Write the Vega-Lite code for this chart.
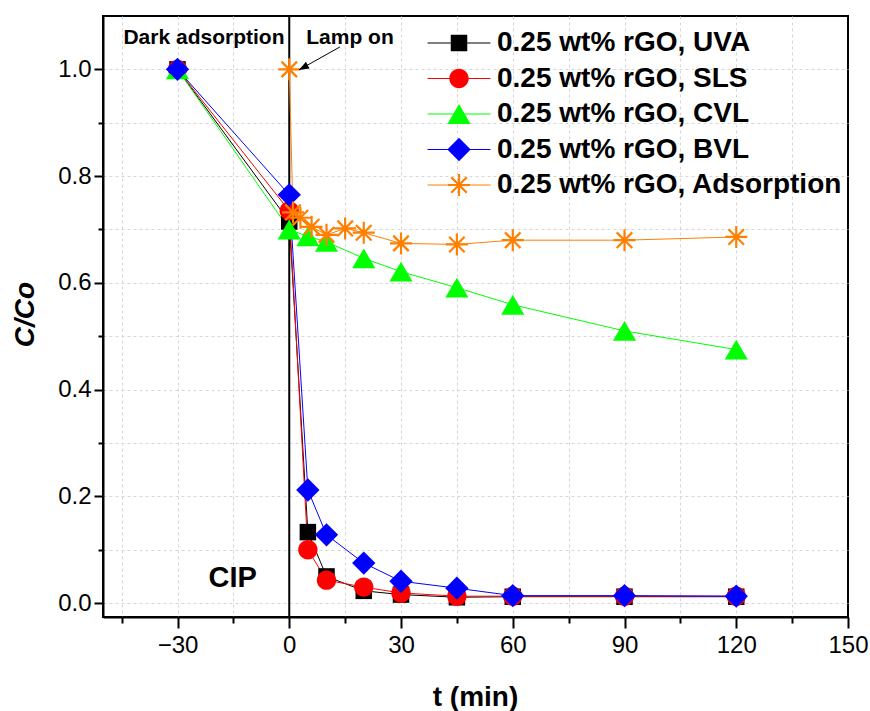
{
  "$schema": "https://vega.github.io/schema/vega-lite/v6.json",
  "width": 745,
  "height": 601,
  "autosize": {"type": "none"},
  "padding": {"left": 103, "top": 16, "right": 22, "bottom": 94},
  "background": "white",
  "config": {
    "font": "Liberation Sans",
    "view": {"stroke": "black", "strokeWidth": 2}
  },
  "resolve": {"axis": {"x": "independent", "y": "independent"}},
  "datasets": {
    "series": [
      {"t": -30, "v": 1.0, "s": "0.25 wt% rGO, UVA"},
      {"t": 0, "v": 0.715, "s": "0.25 wt% rGO, UVA"},
      {"t": 5, "v": 0.133, "s": "0.25 wt% rGO, UVA"},
      {"t": 10, "v": 0.05, "s": "0.25 wt% rGO, UVA"},
      {"t": 20, "v": 0.023, "s": "0.25 wt% rGO, UVA"},
      {"t": 30, "v": 0.016, "s": "0.25 wt% rGO, UVA"},
      {"t": 45, "v": 0.011, "s": "0.25 wt% rGO, UVA"},
      {"t": 60, "v": 0.012, "s": "0.25 wt% rGO, UVA"},
      {"t": 90, "v": 0.012, "s": "0.25 wt% rGO, UVA"},
      {"t": 120, "v": 0.012, "s": "0.25 wt% rGO, UVA"},
      {"t": -30, "v": 1.0, "s": "0.25 wt% rGO, SLS"},
      {"t": 0, "v": 0.735, "s": "0.25 wt% rGO, SLS"},
      {"t": 5, "v": 0.1, "s": "0.25 wt% rGO, SLS"},
      {"t": 10, "v": 0.043, "s": "0.25 wt% rGO, SLS"},
      {"t": 20, "v": 0.03, "s": "0.25 wt% rGO, SLS"},
      {"t": 30, "v": 0.019, "s": "0.25 wt% rGO, SLS"},
      {"t": 45, "v": 0.013, "s": "0.25 wt% rGO, SLS"},
      {"t": 60, "v": 0.013, "s": "0.25 wt% rGO, SLS"},
      {"t": 90, "v": 0.013, "s": "0.25 wt% rGO, SLS"},
      {"t": 120, "v": 0.013, "s": "0.25 wt% rGO, SLS"},
      {"t": -30, "v": 1.0, "s": "0.25 wt% rGO, CVL"},
      {"t": 0, "v": 0.7, "s": "0.25 wt% rGO, CVL"},
      {"t": 5, "v": 0.687, "s": "0.25 wt% rGO, CVL"},
      {"t": 10, "v": 0.677, "s": "0.25 wt% rGO, CVL"},
      {"t": 20, "v": 0.646, "s": "0.25 wt% rGO, CVL"},
      {"t": 30, "v": 0.621, "s": "0.25 wt% rGO, CVL"},
      {"t": 45, "v": 0.591, "s": "0.25 wt% rGO, CVL"},
      {"t": 60, "v": 0.559, "s": "0.25 wt% rGO, CVL"},
      {"t": 90, "v": 0.51, "s": "0.25 wt% rGO, CVL"},
      {"t": 120, "v": 0.475, "s": "0.25 wt% rGO, CVL"},
      {"t": -30, "v": 1.0, "s": "0.25 wt% rGO, BVL"},
      {"t": 0, "v": 0.765, "s": "0.25 wt% rGO, BVL"},
      {"t": 5, "v": 0.212, "s": "0.25 wt% rGO, BVL"},
      {"t": 10, "v": 0.128, "s": "0.25 wt% rGO, BVL"},
      {"t": 20, "v": 0.075, "s": "0.25 wt% rGO, BVL"},
      {"t": 30, "v": 0.041, "s": "0.25 wt% rGO, BVL"},
      {"t": 45, "v": 0.028, "s": "0.25 wt% rGO, BVL"},
      {"t": 60, "v": 0.014, "s": "0.25 wt% rGO, BVL"},
      {"t": 90, "v": 0.014, "s": "0.25 wt% rGO, BVL"},
      {"t": 120, "v": 0.013, "s": "0.25 wt% rGO, BVL"},
      {"t": 0, "v": 1.0, "s": "0.25 wt% rGO, Adsorption"},
      {"t": 1, "v": 0.732, "s": "0.25 wt% rGO, Adsorption"},
      {"t": 3, "v": 0.722, "s": "0.25 wt% rGO, Adsorption"},
      {"t": 6, "v": 0.705, "s": "0.25 wt% rGO, Adsorption"},
      {"t": 10, "v": 0.69, "s": "0.25 wt% rGO, Adsorption"},
      {"t": 15, "v": 0.702, "s": "0.25 wt% rGO, Adsorption"},
      {"t": 20, "v": 0.694, "s": "0.25 wt% rGO, Adsorption"},
      {"t": 30, "v": 0.674, "s": "0.25 wt% rGO, Adsorption"},
      {"t": 45, "v": 0.672, "s": "0.25 wt% rGO, Adsorption"},
      {"t": 60, "v": 0.68, "s": "0.25 wt% rGO, Adsorption"},
      {"t": 90, "v": 0.68, "s": "0.25 wt% rGO, Adsorption"},
      {"t": 120, "v": 0.686, "s": "0.25 wt% rGO, Adsorption"}
    ],
    "zero": [{"t": 0}],
    "notes": [
      {"t": -22.9, "v": 1.0475, "label": "Dark adsorption"},
      {"t": 16.3, "v": 1.0475, "label": "Lamp on"}
    ],
    "cip": [{"t": -15.2, "v": 0.03, "label": "CIP"}],
    "arrow": [{"t0": 13.6, "v0": 1.042, "t1": 2.6, "v1": 0.999}]
  },
  "layer": [
    {
      "data": {"name": "zero"},
      "mark": {"type": "rule", "color": "black", "strokeWidth": 2},
      "encoding": {
        "x": {
          "field": "t", "type": "quantitative",
          "scale": {"domain": [-50, 150], "nice": false, "zero": false},
          "axis": {
            "orient": "bottom",
            "values": [-30, 0, 30, 60, 90, 120, 150],
            "grid": false, "domain": true, "domainColor": "black", "domainWidth": 2,
            "ticks": true, "tickSize": 11, "tickWidth": 2, "tickColor": "black",
            "labelFontSize": 24, "labelColor": "black", "labelPadding": 5, "labelFlush": false, "labelOverlap": false, "labelBound": false,
            "title": "t (min)", "titleFontSize": 28, "titleFontWeight": "bold", "titleColor": "black",
            "titleX": 372, "titleY": 88, "titleBaseline": "alphabetic", "titleAlign": "center", "zindex": 1
          }
        }
      }
    },
    {
      "data": {"name": "series"},
      "mark": {"type": "line", "strokeWidth": 1},
      "encoding": {
        "x": {
          "field": "t", "type": "quantitative",
          "scale": {"domain": [-50, 150], "nice": false, "zero": false},
          "axis": {
            "orient": "bottom",
            "values": [-45, -30, -15, 0, 15, 30, 45, 60, 75, 90, 105, 120, 135],
            "grid": true, "gridColor": "#d6d6d6", "gridDash": [3, 3], "gridWidth": 1,
            "labels": false, "ticks": false, "domain": false, "title": null, "zindex": 0
          }
        },
        "y": {
          "field": "v", "type": "quantitative",
          "scale": {"domain": [-0.026, 1.1], "nice": false, "zero": false},
          "axis": {
            "orient": "left",
            "values": [0, 0.1, 0.2, 0.3, 0.4, 0.5, 0.6, 0.7, 0.8, 0.9, 1.0],
            "grid": true, "gridColor": "#d6d6d6", "gridDash": [3, 3], "gridWidth": 1,
            "labels": false, "ticks": false, "domain": false, "title": null, "zindex": 0
          }
        },
        "color": {
          "field": "s", "type": "nominal",
          "scale": {
            "domain": ["0.25 wt% rGO, UVA", "0.25 wt% rGO, SLS", "0.25 wt% rGO, CVL", "0.25 wt% rGO, BVL", "0.25 wt% rGO, Adsorption"],
            "range": ["#000000", "#FF0000", "#00FF00", "#0000FF", "#FF8000"]
          },
          "legend": {
            "title": null, "orient": "none", "legendX": 342, "legendY": 13, "padding": 0,
            "labelFontSize": 28, "labelFontWeight": "bold", "labelColor": "black", "labelLimit": 600,
            "labelOffset": 24, "symbolSize": 484, "rowPadding": 7.5, "symbolStrokeWidth": 0, "symbolOpacity": 1,
            "encoding": {
              "symbols": {
                "shape": {"value": {"expr": "datum.value === '0.25 wt% rGO, UVA' ? 'M-2.86,-0.045L2.86,-0.045L2.86,0.045L-2.86,0.045ZM-0.75,-0.75L0.75,-0.75L0.75,0.75L-0.75,0.75Z' : datum.value === '0.25 wt% rGO, SLS' ? 'M-2.86,-0.045L2.86,-0.045L2.86,0.045L-2.86,0.045ZM-0.88,0A0.88,0.88,0,1,1,0.88,0A0.88,0.88,0,1,1,-0.88,0Z' : datum.value === '0.25 wt% rGO, CVL' ? 'M-2.86,-0.045L2.86,-0.045L2.86,0.045L-2.86,0.045ZM0,-0.9L1.05,0.9L-1.05,0.9Z' : datum.value === '0.25 wt% rGO, BVL' ? 'M-2.86,-0.045L2.86,-0.045L2.86,0.045L-2.86,0.045ZM0,-1.06L1.06,0L0,1.06L-1.06,0Z' : 'M-2.86,-0.045L2.86,-0.045L2.86,0.045L-2.86,0.045ZM-1,-0.1L1,-0.1L1,0.1L-1,0.1ZM-0.1,-1L0.1,-1L0.1,1L-0.1,1ZM-0.636,-0.778L0.778,0.636L0.636,0.778L-0.778,-0.636ZM-0.778,0.636L0.636,-0.778L0.778,-0.636L-0.636,0.778Z'"}},
                "fill": {"value": {"expr": "scale('color', datum.value)"}},
                "size": {"value": 484},
                "strokeWidth": {"value": 0},
                "opacity": {"value": 1}
              }
            }
          }
        }
      }
    },
    {
      "data": {"name": "series"},
      "mark": {"type": "point", "filled": true, "opacity": 1, "size": 484},
      "encoding": {
        "x": {
          "field": "t", "type": "quantitative",
          "scale": {"domain": [-50, 150], "nice": false, "zero": false},
          "axis": {
            "orient": "bottom",
            "values": [-45, -15, 15, 45, 75, 105, 135],
            "grid": false, "labels": false, "domain": false, "ticks": true,
            "tickSize": 6, "tickWidth": 2, "tickColor": "black", "title": null, "zindex": 1
          }
        },
        "y": {
          "field": "v", "type": "quantitative",
          "scale": {"domain": [-0.026, 1.1], "nice": false, "zero": false},
          "axis": {
            "orient": "left",
            "values": [0.1, 0.3, 0.5, 0.7, 0.9],
            "grid": false, "labels": false, "domain": false, "ticks": true,
            "tickSize": 5, "tickWidth": 2, "tickColor": "black", "title": null, "zindex": 1
          }
        },
        "color": {
          "field": "s", "type": "nominal",
          "scale": {
            "domain": ["0.25 wt% rGO, UVA", "0.25 wt% rGO, SLS", "0.25 wt% rGO, CVL", "0.25 wt% rGO, BVL", "0.25 wt% rGO, Adsorption"],
            "range": ["#000000", "#FF0000", "#00FF00", "#0000FF", "#FF8000"]
          },
          "legend": {
            "title": null, "orient": "none", "legendX": 342, "legendY": 13, "padding": 0,
            "labelFontSize": 28, "labelFontWeight": "bold", "labelColor": "black", "labelLimit": 600,
            "labelOffset": 24, "symbolSize": 484, "rowPadding": 7.5, "symbolStrokeWidth": 0, "symbolOpacity": 1,
            "encoding": {
              "symbols": {
                "shape": {"value": {"expr": "datum.value === '0.25 wt% rGO, UVA' ? 'M-2.86,-0.045L2.86,-0.045L2.86,0.045L-2.86,0.045ZM-0.75,-0.75L0.75,-0.75L0.75,0.75L-0.75,0.75Z' : datum.value === '0.25 wt% rGO, SLS' ? 'M-2.86,-0.045L2.86,-0.045L2.86,0.045L-2.86,0.045ZM-0.88,0A0.88,0.88,0,1,1,0.88,0A0.88,0.88,0,1,1,-0.88,0Z' : datum.value === '0.25 wt% rGO, CVL' ? 'M-2.86,-0.045L2.86,-0.045L2.86,0.045L-2.86,0.045ZM0,-0.9L1.05,0.9L-1.05,0.9Z' : datum.value === '0.25 wt% rGO, BVL' ? 'M-2.86,-0.045L2.86,-0.045L2.86,0.045L-2.86,0.045ZM0,-1.06L1.06,0L0,1.06L-1.06,0Z' : 'M-2.86,-0.045L2.86,-0.045L2.86,0.045L-2.86,0.045ZM-1,-0.1L1,-0.1L1,0.1L-1,0.1ZM-0.1,-1L0.1,-1L0.1,1L-0.1,1ZM-0.636,-0.778L0.778,0.636L0.636,0.778L-0.778,-0.636ZM-0.778,0.636L0.636,-0.778L0.778,-0.636L-0.636,0.778Z'"}},
                "fill": {"value": {"expr": "scale('color', datum.value)"}},
                "size": {"value": 484},
                "strokeWidth": {"value": 0},
                "opacity": {"value": 1}
              }
            }
          }
        },
        "shape": {
          "field": "s", "type": "nominal",
          "scale": {
            "domain": ["0.25 wt% rGO, Adsorption", "0.25 wt% rGO, BVL", "0.25 wt% rGO, CVL", "0.25 wt% rGO, SLS", "0.25 wt% rGO, UVA"],
            "range": [
              "M-1,-0.1L1,-0.1L1,0.1L-1,0.1ZM-0.1,-1L0.1,-1L0.1,1L-0.1,1ZM-0.636,-0.778L0.778,0.636L0.636,0.778L-0.778,-0.636ZM-0.778,0.636L0.636,-0.778L0.778,-0.636L-0.636,0.778Z",
              "M0,-1.06L1.06,0L0,1.06L-1.06,0Z",
              "M0,-0.9L1.05,0.9L-1.05,0.9Z",
              "M-0.88,0A0.88,0.88,0,1,1,0.88,0A0.88,0.88,0,1,1,-0.88,0Z",
              "M-0.75,-0.75L0.75,-0.75L0.75,0.75L-0.75,0.75Z"
            ]
          },
          "legend": null
        }
      }
    },
    {
      "data": {"name": "notes"},
      "mark": {"type": "text", "fontSize": 21, "fontWeight": "bold", "align": "center", "baseline": "alphabetic", "color": "black"},
      "encoding": {
        "x": {"field": "t", "type": "quantitative", "scale": {"domain": [-50, 150], "nice": false, "zero": false}, "axis": null},
        "y": {
          "field": "v", "type": "quantitative",
          "scale": {"domain": [-0.026, 1.1], "nice": false, "zero": false},
          "axis": {
            "orient": "left",
            "values": [0, 0.2, 0.4, 0.6, 0.8, 1.0], "format": ".1f",
            "grid": false, "domain": true, "domainColor": "black", "domainWidth": 2,
            "ticks": true, "tickSize": 9, "tickWidth": 2, "tickColor": "black",
            "labelFontSize": 24, "labelColor": "black", "labelPadding": 3, "labelFlush": false, "labelOverlap": false, "labelBound": false,
            "title": "C/Co", "titleFontSize": 28, "titleFontWeight": "bold", "titleFontStyle": "italic", "titleColor": "black",
            "titleX": -70, "titleY": 298, "titleAngle": -90, "titleBaseline": "alphabetic", "titleAlign": "center", "zindex": 1
          }
        },
        "text": {"field": "label", "type": "nominal"}
      }
    },
    {
      "data": {"name": "cip"},
      "mark": {"type": "text", "fontSize": 29, "fontWeight": "bold", "align": "center", "baseline": "alphabetic", "color": "black"},
      "encoding": {
        "x": {"field": "t", "type": "quantitative", "scale": {"domain": [-50, 150], "nice": false, "zero": false}, "axis": null},
        "y": {"field": "v", "type": "quantitative", "scale": {"domain": [-0.026, 1.1], "nice": false, "zero": false}, "axis": null},
        "text": {"field": "label", "type": "nominal"}
      }
    },
    {
      "data": {"name": "arrow"},
      "mark": {"type": "rule", "color": "black", "strokeWidth": 1},
      "encoding": {
        "x": {"field": "t0", "type": "quantitative", "scale": {"domain": [-50, 150], "nice": false, "zero": false}, "axis": null},
        "y": {"field": "v0", "type": "quantitative", "scale": {"domain": [-0.026, 1.1], "nice": false, "zero": false}, "axis": null},
        "x2": {"field": "t1"},
        "y2": {"field": "v1"}
      }
    },
    {
      "data": {"name": "arrow"},
      "mark": {"type": "point", "shape": "M0,0L-2,-0.75L-2,0.75Z", "filled": true, "opacity": 1, "color": "black", "size": 100, "angle": 151.3},
      "encoding": {
        "x": {"field": "t1", "type": "quantitative", "scale": {"domain": [-50, 150], "nice": false, "zero": false}, "axis": null},
        "y": {"field": "v1", "type": "quantitative", "scale": {"domain": [-0.026, 1.1], "nice": false, "zero": false}, "axis": null}
      }
    }
  ]
}
